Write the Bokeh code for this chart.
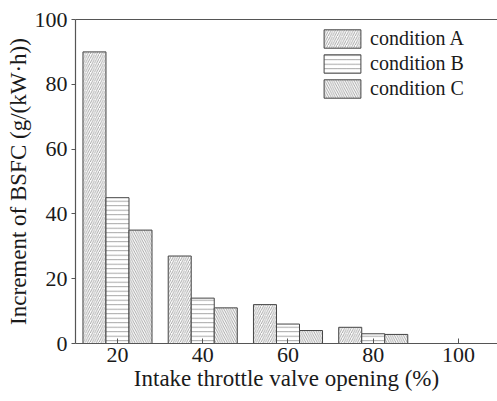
from bokeh.plotting import figure
from bokeh.models import Range1d, FixedTicker, LinearAxis, Legend, LegendItem
from bokeh.embed import file_html
from bokeh.resources import INLINE

# Intake throttle valve opening (%) and BSFC increments per condition
openings = [20, 40, 60, 80, 100]
cond_a = [90, 27, 12, 5, 0]
cond_b = [45, 14, 6, 3, 0]
cond_c = [35, 11, 4, 2.8, 0]
series_names = ["condition A", "condition B", "condition C"]
y_ticks = [0, 20, 40, 60, 80, 100]

FONT = "Liberation Serif"
bar_w = 5.4

p = figure(width=497, height=401, output_backend="svg", toolbar_location=None,
           x_range=Range1d(10.15, 109.15), y_range=Range1d(0, 100),
           min_border_left=75, min_border_top=19, min_border_bottom=58,
           min_border_right=0)
p.outline_line_color = None
p.xgrid.visible = False
p.ygrid.visible = False
p.background_fill_color = "white"

hatch_kw = dict(fill_color="white", line_color="#444444", line_width=1,
                hatch_color="#808080", hatch_weight=0.7, hatch_scale=4.5)

patterns = ["/", "-", "\\"]
offsets = [-bar_w, 0, bar_w]
renderers = []
for vals, pat, off in zip([cond_a, cond_b, cond_c], patterns, offsets):
    xs = [o + off for o in openings]
    r = p.vbar(x=xs, top=vals, bottom=0, width=bar_w, hatch_pattern=pat, **hatch_kw)
    renderers.append(r)

# axes
p.xaxis.ticker = FixedTicker(ticks=openings)
p.yaxis.ticker = FixedTicker(ticks=y_ticks)
for ax in (p.xaxis[0], p.yaxis[0]):
    ax.axis_line_color = "#555555"
    ax.axis_line_width = 1.2
    ax.major_tick_line_color = "#555555"
    ax.minor_tick_line_color = None
    ax.major_label_text_font = FONT
    ax.major_label_text_font_size = "22px"
    ax.major_label_text_color = "#1a1a1a"
    ax.axis_label_text_font = FONT
    ax.axis_label_text_font_size = "23px"
    ax.axis_label_text_font_style = "normal"
    ax.axis_label_text_color = "#1a1a1a"

p.xaxis.major_tick_in = 5
p.xaxis.major_tick_out = 0
p.yaxis.major_tick_in = 0
p.yaxis.major_tick_out = 4
p.xaxis.axis_label = "Intake throttle valve opening (%)"
p.yaxis.axis_label = "Increment of BSFC (g/(kW\u00b7h))"
p.xaxis.major_label_standoff = 4
p.xaxis.axis_label_standoff = 1
p.yaxis.major_label_standoff = 4
p.yaxis.axis_label_standoff = 1

# top border line of the frame
top = LinearAxis(ticker=FixedTicker(ticks=[]), axis_line_color="#555555",
                 axis_line_width=1.2, major_label_text_font_size="0px")
p.add_layout(top, "above")

legend = Legend(items=[LegendItem(label=n, renderers=[r]) for n, r in zip(series_names, renderers)],
                location=(244, 243), padding=0, margin=0, spacing=2,
                glyph_width=46, glyph_height=23, label_standoff=5,
                label_text_font=FONT, label_text_font_size="20px",
                label_text_color="#1a1a1a",
                border_line_color=None, background_fill_alpha=0)
p.add_layout(legend, "center")

open("out.html", "w").write(file_html(p, INLINE))
